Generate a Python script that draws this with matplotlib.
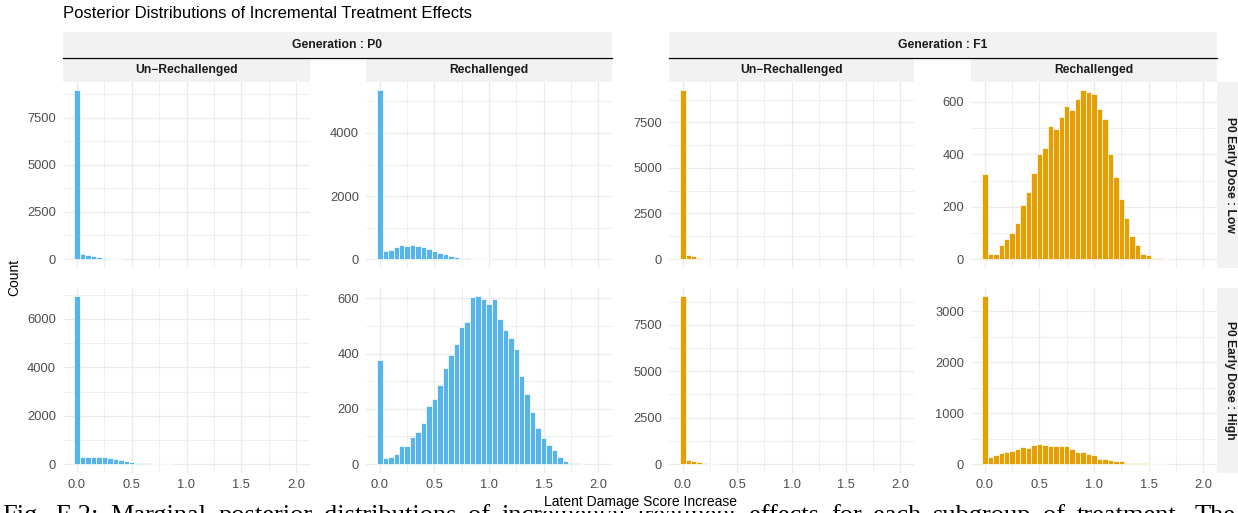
import numpy as np
import matplotlib
matplotlib.use("Agg")
import matplotlib.pyplot as plt
from matplotlib.ticker import MultipleLocator

plt.rcParams["font.family"] = ["Liberation Sans", "DejaVu Sans"]

BIN_WIDTH = 0.05

# histogram counts, bins centred at 0.00, 0.05, 0.10, ...
p0_low_unre = [8940, 250, 195, 140, 90, 50, 18, 6, 2]
p0_low_re = [5350, 256, 288, 373, 437, 427, 437, 427, 373, 331, 267, 203,
             149, 107, 75, 43, 21, 10, 5, 2, 1]
f1_low_unre = [9250, 203, 166, 74, 28, 8, 2]
f1_low_re = [326, 18, 21, 53, 78, 101, 138, 205, 258, 329, 401, 424, 509,
             497, 541, 586, 570, 613, 644, 638, 631, 574, 535, 400, 313, 229,
             158, 88, 53, 18, 14, 5, 3, 1, 1]
p0_high_unre = [6930, 276, 276, 290, 290, 290, 248, 207, 166, 124, 83, 55,
                41, 28, 14, 7, 3, 1]
p0_high_re = [378, 22, 25, 36, 65, 65, 99, 116, 148, 211, 236, 286, 349,
              396, 434, 495, 515, 606, 607, 596, 579, 599, 524, 486, 457,
              415, 319, 253, 187, 130, 95, 69, 51, 27, 13, 5, 4, 1]
f1_high_unre = [9030, 216, 180, 108, 72, 18, 5]
f1_high_re = [3296, 138, 177, 210, 236, 256, 302, 328, 322, 374, 387, 374,
              361, 361, 361, 348, 295, 236, 236, 204, 177, 105, 92, 79, 59,
              53, 26, 20, 20, 13, 7, 3, 2, 1]

generations = ["P0", "F1"]
treatments = ["Un\u2212Rechallenged", "Rechallenged"]
doses = ["Low", "High"]
gen_colors = {"P0": "#56B4E9", "F1": "#E69F00"}

panels = {
    ("Low", "P0", 0): p0_low_unre, ("Low", "P0", 1): p0_low_re,
    ("Low", "F1", 0): f1_low_unre, ("Low", "F1", 1): f1_low_re,
    ("High", "P0", 0): p0_high_unre, ("High", "P0", 1): p0_high_re,
    ("High", "F1", 0): f1_high_unre, ("High", "F1", 1): f1_high_re,
}
y_steps = {
    ("Low", "P0", 0): 2500, ("Low", "P0", 1): 2000,
    ("Low", "F1", 0): 2500, ("Low", "F1", 1): 200,
    ("High", "P0", 0): 2000, ("High", "P0", 1): 200,
    ("High", "F1", 0): 2500, ("High", "F1", 1): 1000,
}

caption = ("Fig. E.2:  Marginal posterior distributions of incremental "
           "treatment effects for each subgroup of treatment. The")

W, H = 1238, 513
fig = plt.figure(figsize=(W / 100, H / 100), dpi=100)


def px_axes(x0, y0, x1, y1):
    return fig.add_axes([x0 / W, 1 - y1 / H, (x1 - x0) / W, (y1 - y0) / H])


def strip(x0, y0, x1, y1, label, rotation=0):
    ax = px_axes(x0, y0, x1, y1)
    ax.set_facecolor("#F2F2F2")
    ax.set_xticks([])
    ax.set_yticks([])
    for s in ax.spines.values():
        s.set_visible(False)
    ax.text(0.5, 0.5, label, transform=ax.transAxes, ha="center",
            va="center", fontsize=8.7, fontweight="bold", color="#1A1A1A",
            rotation=rotation)
    return ax


cols = [(63, 310), (366, 612), (669, 914), (971, 1217)]
rows = [(82, 267.5), (288, 472.5)]
grid_col = "#EBEBEB"

for r, dose in enumerate(doses):
    for c, (x0, x1) in enumerate(cols):
        gen = generations[c // 2]
        key = (dose, gen, c % 2)
        counts = np.array(panels[key])
        centres = np.arange(len(counts)) * BIN_WIDTH
        ax = px_axes(x0, rows[r][0], x1, rows[r][1])
        ax.bar(centres, counts, width=BIN_WIDTH, color=gen_colors[gen],
               edgecolor="white", linewidth=0.5)
        ymax = counts.max()
        ax.set_ylim(-0.05 * ymax, 1.05 * ymax)
        ax.set_xlim(-0.1275, 2.1275)
        ax.xaxis.set_major_locator(MultipleLocator(0.5))
        ax.xaxis.set_minor_locator(MultipleLocator(0.25))
        ax.yaxis.set_major_locator(MultipleLocator(y_steps[key]))
        ax.yaxis.set_minor_locator(MultipleLocator(y_steps[key] / 2))
        ax.set_axisbelow(True)
        ax.grid(which="major", color=grid_col, linewidth=0.9)
        ax.grid(which="minor", color=grid_col, linewidth=0.55)
        for s in ax.spines.values():
            s.set_visible(False)
        ax.tick_params(which="both", length=0, labelsize=9.3,
                       labelcolor="#4D4D4D", pad=5)
        ax.xaxis.set_major_formatter(lambda v, p: f"{v:.1f}")
        if r == 0:
            ax.tick_params(axis="x", labelbottom=False)

# nested column strips
for g, gen in enumerate(generations):
    gx0, gx1 = cols[2 * g][0], cols[2 * g + 1][1]
    strip(gx0, 32, gx1, 57, f"Generation : {gen}")
    fig.add_artist(plt.Line2D([gx0 / W, gx1 / W], [1 - 57.5 / H, 1 - 57.5 / H],
                              color="black", linewidth=0.9))
    for t, treat in enumerate(treatments):
        x0, x1 = cols[2 * g + t]
        strip(x0, 58, x1, 82, treat)

# row strips
for r, dose in enumerate(doses):
    strip(1217, rows[r][0], 1242, rows[r][1], f"P0 Early Dose : {dose}",
          rotation=-90)

fig.text(63 / W, 1 - 14 / H, "Posterior Distributions of Incremental Treatment Effects",
         fontsize=12, va="center", ha="left", color="black")
fig.text(14 / W, 1 - 277 / H, "Count", rotation=90, fontsize=10,
         ha="center", va="center")

# caption line below the figure, justified across the full width
words = caption.split()
renderer = fig.canvas.get_renderer()
word_texts = [fig.text(0, 1 - 522 / H, w, fontsize=19,
                       family=["Liberation Serif", "DejaVu Serif"],
                       ha="left", va="baseline", zorder=1) for w in words]
widths = [t.get_window_extent(renderer).width for t in word_texts]
gap = (1236 - 2 - sum(widths)) / (len(words) - 1)
xpos = 2
for t, w in zip(word_texts, widths):
    t.set_x(xpos / W)
    xpos += w + gap

fig.text(640 / W, 1 - 502 / H, "Latent Damage Score Increase", fontsize=10,
         ha="center", va="center", zorder=5,
         bbox=dict(facecolor="white", edgecolor="none", pad=1.5))

fig.savefig("out.png", dpi=100)
